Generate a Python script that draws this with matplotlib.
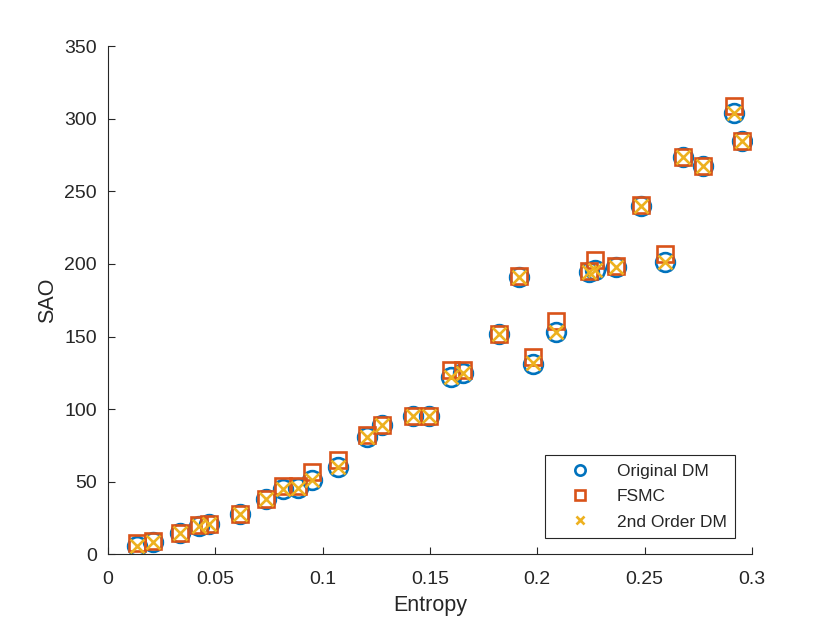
import matplotlib
matplotlib.use("Agg")
import matplotlib.pyplot as plt
from matplotlib.ticker import FixedLocator

plt.rcParams['font.family'] = ['Liberation Sans', 'DejaVu Sans']

entropy = [0.0135, 0.0210, 0.0335, 0.0424, 0.0470, 0.0615, 0.0736, 0.0815, 0.0885,
           0.0950, 0.1070, 0.1207, 0.1276, 0.1420, 0.1495, 0.1600, 0.1654, 0.1820,
           0.1915, 0.1980, 0.2087, 0.2243, 0.2268, 0.2368, 0.2481, 0.2595, 0.2677,
           0.2773, 0.2918, 0.2952]
original_dm = [5.5, 8.5, 15, 19.5, 21, 28, 38, 45, 46,
               51, 60, 81, 89, 95, 95, 122, 125, 152,
               191, 131, 153, 194.5, 196, 198, 240, 201.5, 273.5,
               267.5, 304, 284.5]
fsmc = [8, 9, 15, 20, 21, 28, 38, 47, 47,
        57, 65, 82, 89, 95, 95, 127, 127, 152,
        192, 136, 161, 195, 202.5, 198.5, 240.5, 207, 273.5,
        267.5, 308.5, 284.5]
second_dm = [5.5, 8.5, 15, 19.5, 21, 28, 38, 45, 46,
             51, 60, 81, 89, 95, 95, 122.5, 125, 152,
             191, 131.5, 153, 194.5, 196, 198, 240, 201.5, 273.5,
             267.5, 304, 284.5]

xticks = [0, 0.05, 0.1, 0.15, 0.2, 0.25, 0.3]
xticklabels = ["0", "0.05", "0.1", "0.15", "0.2", "0.25", "0.3"]
yticks = [0, 50, 100, 150, 200, 250, 300, 350]

fig = plt.figure(figsize=(8.30, 6.23), dpi=100)
ax = fig.add_axes([0.13, 0.11, 0.776, 0.816])

ax.plot(entropy, original_dm, linestyle='none', marker='o', markersize=13.5,
        markerfacecolor='none', markeredgecolor='#0072BD', markeredgewidth=1.9,
        label='Original DM')
ax.plot(entropy, fsmc, linestyle='none', marker='s', markersize=12,
        markerfacecolor='none', markeredgecolor='#D95319', markeredgewidth=1.9,
        label='FSMC')
ax.plot(entropy, second_dm, linestyle='none', marker='x', markersize=10.5,
        markeredgecolor='#EDB120', markeredgewidth=1.9,
        label='2nd Order DM')

ax.set_xlim(0, 0.3)
ax.set_ylim(0, 350)
ax.xaxis.set_major_locator(FixedLocator(xticks))
ax.set_xticklabels(xticklabels)
ax.yaxis.set_major_locator(FixedLocator(yticks))

for s in ['top', 'right']:
    ax.spines[s].set_visible(False)
for s in ['left', 'bottom']:
    ax.spines[s].set_color('#262626')
    ax.spines[s].set_linewidth(0.8)
ax.tick_params(direction='in', length=5, width=0.8, colors='#262626',
               labelsize=14)
ax.tick_params(axis='x', pad=12)
ax.tick_params(axis='y', pad=8)

ax.set_xlabel('Entropy', fontsize=15.5, color='#262626', labelpad=5)
ax.set_ylabel('SAO', fontsize=15.5, color='#262626', labelpad=4.5)

leg = ax.legend(loc='lower right', bbox_to_anchor=(0.974, 0.032), fontsize=12.5,
                markerscale=0.55, frameon=True, fancybox=False, edgecolor='#262626',
                framealpha=1, borderpad=0.5, borderaxespad=0, handletextpad=0.63,
                labelspacing=0.58, handlelength=3.0)
leg.get_frame().set_linewidth(0.8)
for t in leg.get_texts():
    t.set_color('#262626')

fig.savefig('out.png', dpi=100)
